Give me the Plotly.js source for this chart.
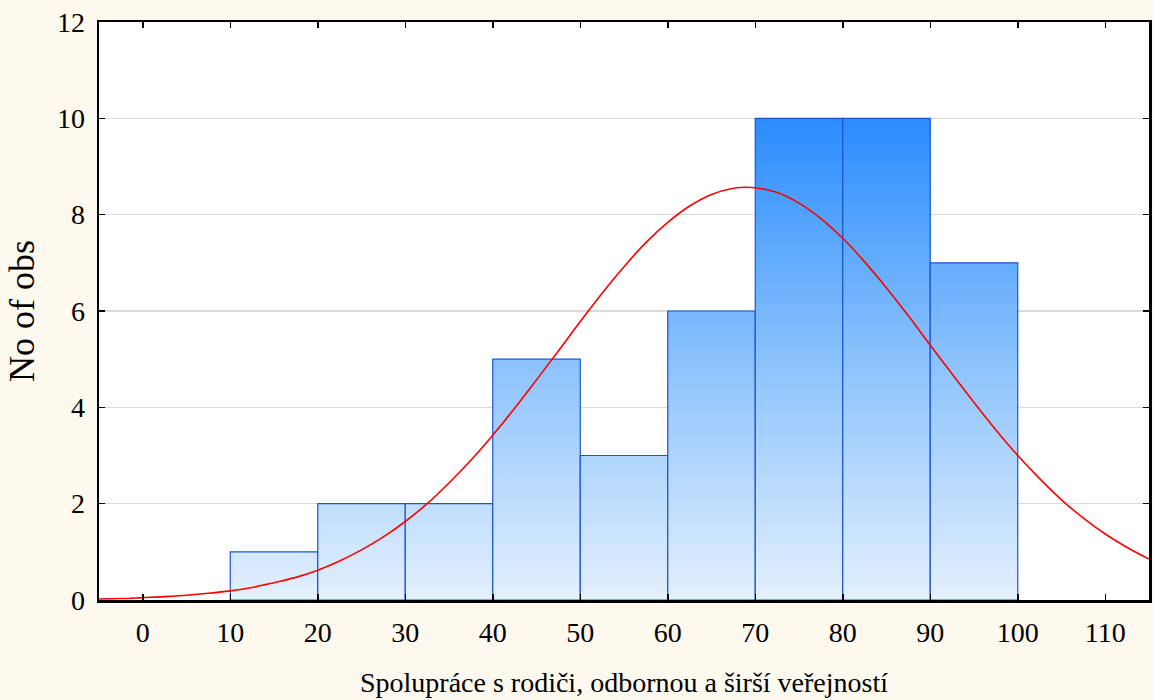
<!DOCTYPE html>
<html>
<head>
<meta charset="utf-8">
<script src="https://cdn.plot.ly/plotly-3.0.1.min.js"></script>
<style>
  html, body { margin: 0; padding: 0; background: #FDF9EE; }
  #chart { width: 1154px; height: 700px; }
</style>
</head>
<body>
<div id="chart"></div>
<script>
// Histogram bins (centers), counts
const binCenters = [15, 25, 35, 45, 55, 65, 75, 85, 95];
const binCounts  = [1, 2, 2, 5, 3, 6, 10, 10, 7];
const binWidth = 10;

// Fitted normal curve
const curveX = [-5, -2.5, 0, 2.5, 5, 7.5, 10, 12.5, 15, 17.5, 20, 22.5, 25, 27.5, 30, 32.5, 35, 37.5, 40, 42.5, 45, 47.5, 50, 52.5, 55, 57.5, 60, 62.5, 65, 67.5, 69, 70, 72.5, 75, 77.5, 80, 82.5, 85, 87.5, 90, 92.5, 95, 97.5, 100, 102.5, 105, 107.5, 110, 112.5, 115];
const curveY = [0.02, 0.03, 0.05, 0.07, 0.10, 0.14, 0.19, 0.26, 0.36, 0.47, 0.62, 0.81, 1.04, 1.31, 1.63, 2.00, 2.43, 2.90, 3.42, 3.98, 4.57, 5.17, 5.78, 6.37, 6.92, 7.42, 7.84, 8.18, 8.42, 8.55, 8.57, 8.56, 8.46, 8.24, 7.92, 7.51, 7.02, 6.48, 5.90, 5.29, 4.69, 4.10, 3.53, 3.00, 2.52, 2.08, 1.70, 1.37, 1.09, 0.85];

const xTicks = [0, 10, 20, 30, 40, 50, 60, 70, 80, 90, 100, 110];
const yTicks = [0, 2, 4, 6, 8, 10, 12];

const xTitle = "Spolupráce s rodiči, odbornou a širší veřejností";
const yTitle = "No of obs";

const font = "Liberation Serif, Times New Roman, serif";

const traces = [
  {
    type: "bar",
    x: binCenters,
    y: binCounts,
    width: binCenters.map(() => binWidth),
    marker: { color: "#7DB8FC", line: { color: "#1A55D2", width: 1.2 } },
    hoverinfo: "x+y",
    showlegend: false
  },
  {
    type: "scatter",
    mode: "lines",
    x: curveX,
    y: curveY,
    line: { color: "#FF0000", width: 1.6, shape: "spline", smoothing: 1 },
    hoverinfo: "skip",
    showlegend: false
  }
];

const layout = {
  width: 1154,
  height: 700,
  paper_bgcolor: "#FDF9EE",
  plot_bgcolor: "#FFFFFF",
  margin: { l: 99, r: 5, t: 22, b: 100 },
  font: { family: font, color: "#000000", size: 28 },
  bargap: 0,
  xaxis: {
    range: [-5, 115],
    tickvals: xTicks,
    ticktext: xTicks.map(String),
    ticks: "inside",
    ticklen: 6,
    tickwidth: 1.5,
    tickcolor: "#000",
    ticklabelstandoff: 6,
    showline: true,
    linecolor: "#000",
    linewidth: 2.5,
    mirror: "allticks",
    showgrid: false,
    zeroline: false,
    tickfont: { family: font, size: 28 },
    title: { text: xTitle, font: { family: font, size: 28 }, standoff: 26 }
  },
  yaxis: {
    range: [0, 12],
    tickvals: yTicks,
    ticktext: yTicks.map(String),
    ticks: "inside",
    ticklen: 6,
    tickwidth: 1.5,
    tickcolor: "#000",
    ticklabelstandoff: 6,
    showline: true,
    linecolor: "#000",
    linewidth: 2.5,
    mirror: "allticks",
    showgrid: true,
    gridcolor: "#DADADA",
    gridwidth: 1.5,
    zeroline: false,
    tickfont: { family: font, size: 28 },
    title: { text: yTitle, font: { family: font, size: 36 }, standoff: 12 }
  }
};

function applyGradient(gd) {
  const ya = gd._fullLayout.yaxis;
  const svg = gd.querySelector("svg.main-svg");
  if (!svg) return;
  let defs = svg.querySelector("defs");
  if (!defs) {
    defs = document.createElementNS("http://www.w3.org/2000/svg", "defs");
    svg.insertBefore(defs, svg.firstChild);
  }
  let grad = defs.querySelector("#barGrad");
  if (!grad) {
    grad = document.createElementNS("http://www.w3.org/2000/svg", "linearGradient");
    grad.setAttribute("id", "barGrad");
    grad.setAttribute("gradientUnits", "userSpaceOnUse");
    const stops = [["0", "#2A8CFF"], ["0.5", "#8AC2FC"], ["1", "#E4F0FD"]];
    stops.forEach(([o, c]) => {
      const s = document.createElementNS("http://www.w3.org/2000/svg", "stop");
      s.setAttribute("offset", o);
      s.setAttribute("stop-color", c);
      grad.appendChild(s);
    });
    defs.appendChild(grad);
  }
  grad.setAttribute("x1", "0");
  grad.setAttribute("x2", "0");
  grad.setAttribute("y1", String(ya.l2p(10)));
  grad.setAttribute("y2", String(ya.l2p(0)));
  gd.querySelectorAll(".barlayer .point path").forEach(p => {
    p.style.fill = "url(#barGrad)";
    p.style.fillOpacity = "1";
  });
}

const gd = document.getElementById("chart");
Plotly.newPlot(gd, traces, layout, { displayModeBar: false, staticPlot: true }).then(() => {
  applyGradient(gd);
  gd.on("plotly_afterplot", () => applyGradient(gd));
});
</script>
</body>
</html>
